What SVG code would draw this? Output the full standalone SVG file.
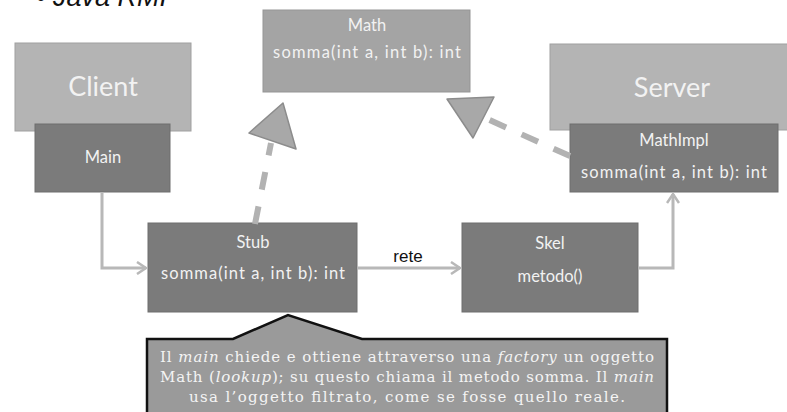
<svg xmlns="http://www.w3.org/2000/svg" width="787" height="412" viewBox="0 0 787 412">
<defs>
<style>
.big{fill:#b4b4b4;stroke:#a0a0a0;stroke-width:1}
.iface{fill:#a4a4a4;stroke:#959595;stroke-width:1}
.dark{fill:#7b7b7b;stroke:#6e6e6e;stroke-width:1}
.t{font-family:Lato,"Open Sans","Liberation Sans",sans-serif;fill:#f2f2f2;text-anchor:middle}
.tb{font-size:27px}
.ts{font-size:16.5px}
.conn{fill:none;stroke:#b8b8b8;stroke-width:3}
.dash{fill:none;stroke:#b2b2b2;stroke-width:6;stroke-dasharray:18 17}
.tri{fill:#a8a8a8;stroke:#8c8c8c;stroke-width:1.5;stroke-linejoin:round}
.note{font-family:"DejaVu Serif","Liberation Serif",serif;font-size:15px;fill:#f4f4f4;text-anchor:middle}
</style>
<marker id="open" markerWidth="14" markerHeight="14" refX="11" refY="7" orient="auto" markerUnits="userSpaceOnUse">
<path d="M2,1 L11,7 L2,13" fill="none" stroke="#b8b8b8" stroke-width="2.5"/>
</marker>
</defs>
<rect width="787" height="412" fill="#ffffff"/>
<text x="36" y="6" font-family="'Liberation Sans',Arial,sans-serif" font-size="27" font-style="italic" fill="#111">•  Java RMI</text>

<g id="client"><rect class="big" x="15" y="43" width="176" height="88"/><text class="t tb" x="103" y="96">Client</text></g>
<g id="server"><rect class="big" x="550" y="44" width="240" height="86"/><text class="t tb" x="672" y="97">Server</text></g>
<g id="math"><rect class="iface" x="263" y="10" width="207" height="82"/><text class="t ts" x="367" y="31">Math</text><text class="t ts" x="367" y="58" textLength="188">somma(int a, int b): int</text></g>
<g id="main"><rect class="dark" x="35" y="124" width="135" height="68"/><text class="t ts" x="103" y="163">Main</text></g>
<g id="mathimpl"><rect class="dark" x="570" y="124" width="208" height="68"/><text class="t ts" x="674" y="146">MathImpl</text><text class="t ts" x="674" y="178" textLength="186">somma(int a, int b): int</text></g>
<g id="stub"><rect class="dark" x="148" y="223" width="209" height="89"/><text class="t ts" x="253" y="248">Stub</text><text class="t ts" x="253" y="279" textLength="184">somma(int a, int b): int</text></g>
<g id="skel"><rect class="dark" x="462" y="223" width="176" height="89"/><text class="t ts" x="550" y="249">Skel</text><text class="t ts" x="550" y="282">metodo()</text></g>

<g id="connectors">
<path class="conn" d="M102,192 V268 H146" marker-end="url(#open)"/>
<path class="conn" d="M357,268 H460" marker-end="url(#open)"/>
<text x="408" y="262" font-family="'Liberation Sans',Arial,sans-serif" font-size="17" fill="#111" text-anchor="middle">rete</text>
<path class="conn" d="M638,268 H673 V194" marker-end="url(#open)"/>
<path class="dash" d="M255,224 L271,143"/>
<polygon class="tri" points="283,103 249,133 296,149"/>
<path class="dash" d="M570,156 L485,118"/>
<polygon class="tri" points="447,99 494,97 473,138"/>
</g>

<g id="callout">
<path d="M147,339 H233 L288,315 L362,339 H667 V414 H147 Z" fill="#9a9a9a" stroke="#111" stroke-width="2.5" stroke-linejoin="miter"/>
<text class="note" x="407" y="362" textLength="494">Il <tspan font-style="italic">main</tspan> chiede e ottiene attraverso una <tspan font-style="italic">factory</tspan> un oggetto</text>
<text class="note" x="407" y="382" textLength="494">Math (<tspan font-style="italic">lookup</tspan>); su questo chiama il metodo somma. Il <tspan font-style="italic">main</tspan></text>
<text class="note" x="407" y="402" textLength="436">usa l’oggetto filtrato, come se fosse quello reale.</text>
</g>
</svg>
